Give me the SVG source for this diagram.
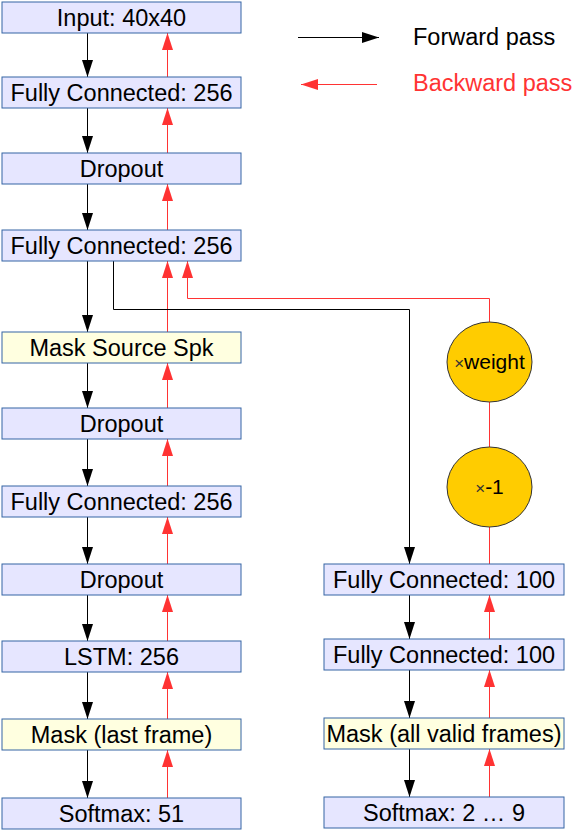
<svg xmlns="http://www.w3.org/2000/svg" width="573" height="831" viewBox="0 0 573 831">
<style>
.box{fill:#e6e6ff;stroke:#3465a4;stroke-width:1}
.mask{fill:#ffffe0;stroke:#3465a4;stroke-width:1}
.t{font-family:"Liberation Sans",Arial,sans-serif;font-size:23.5px;text-anchor:middle;fill:#000}
.lg{font-family:"Liberation Sans",Arial,sans-serif;font-size:23.5px;fill:#000}
.et{font-family:"Liberation Sans",Arial,sans-serif;font-size:21px;text-anchor:middle;fill:#000}
.x{font-size:17px;fill:#333}
.f{fill:none;stroke:#000;stroke-width:1}
.b{fill:none;stroke:#ff3333;stroke-width:1}
.fa{marker-end:url(#ab)}
.ba{marker-end:url(#ar)}
.ell{fill:#ffcc00;stroke:#333;stroke-width:1}
</style>
<defs>
<marker id="ab" markerUnits="userSpaceOnUse" markerWidth="18" markerHeight="12" refX="17" refY="5.5" orient="auto"><path d="M0,0 L17,5.5 L0,11 z" fill="#000"/></marker>
<marker id="ar" markerUnits="userSpaceOnUse" markerWidth="18" markerHeight="12" refX="17" refY="5.5" orient="auto"><path d="M0,0 L17,5.5 L0,11 z" fill="#ff3333"/></marker>
</defs>
<g id="legend">
<line class="f fa" x1="298" y1="37.5" x2="379" y2="37.5"/>
<text class="lg" x="413" y="45">Forward pass</text>
<line class="b ba" x1="377" y1="84.5" x2="301" y2="84.5"/>
<text class="lg" x="413" y="91" style="fill:#ff3333">Backward pass</text>
</g>
<g id="connectors">
<line class="f fa" x1="87.5" y1="33" x2="87.5" y2="77"/>
<line class="b ba" x1="167.5" y1="77" x2="167.5" y2="33"/>
<line class="f fa" x1="87.5" y1="108" x2="87.5" y2="153"/>
<line class="b ba" x1="167.5" y1="153" x2="167.5" y2="108"/>
<line class="f fa" x1="87.5" y1="184" x2="87.5" y2="230"/>
<line class="b ba" x1="167.5" y1="230" x2="167.5" y2="184"/>
<line class="f fa" x1="87.5" y1="261" x2="87.5" y2="332"/>
<line class="b ba" x1="167.5" y1="332" x2="167.5" y2="261"/>
<line class="f fa" x1="87.5" y1="363" x2="87.5" y2="408"/>
<line class="b ba" x1="167.5" y1="408" x2="167.5" y2="363"/>
<line class="f fa" x1="87.5" y1="439" x2="87.5" y2="486"/>
<line class="b ba" x1="167.5" y1="486" x2="167.5" y2="439"/>
<line class="f fa" x1="87.5" y1="517" x2="87.5" y2="564"/>
<line class="b ba" x1="167.5" y1="564" x2="167.5" y2="517"/>
<line class="f fa" x1="87.5" y1="595" x2="87.5" y2="641"/>
<line class="b ba" x1="167.5" y1="641" x2="167.5" y2="595"/>
<line class="f fa" x1="87.5" y1="672" x2="87.5" y2="719"/>
<line class="b ba" x1="167.5" y1="719" x2="167.5" y2="672"/>
<line class="f fa" x1="87.5" y1="750" x2="87.5" y2="798"/>
<line class="b ba" x1="167.5" y1="798" x2="167.5" y2="750"/>
<polyline class="f fa" points="113.5,261 113.5,309.5 409.5,309.5 409.5,564"/>
<polyline class="b ba" points="489.5,322 489.5,298.5 187.5,298.5 187.5,261"/>
<line class="b" x1="489.5" y1="402" x2="489.5" y2="447"/>
<line class="b" x1="489.5" y1="527" x2="489.5" y2="564"/>
<line class="f fa" x1="409.5" y1="595" x2="409.5" y2="639"/>
<line class="b ba" x1="489.5" y1="639" x2="489.5" y2="595"/>
<line class="f fa" x1="409.5" y1="670" x2="409.5" y2="718"/>
<line class="b ba" x1="489.5" y1="718" x2="489.5" y2="670"/>
<line class="f fa" x1="409.5" y1="749" x2="409.5" y2="797"/>
<line class="b ba" x1="489.5" y1="797" x2="489.5" y2="749"/>
</g>
<g id="input"><rect class="box" x="2" y="2" width="239" height="31"/><text class="t" x="121.5" y="26">Input: 40x40</text></g>
<g id="fc1"><rect class="box" x="2" y="77" width="239" height="31"/><text class="t" x="121.5" y="101">Fully Connected: 256</text></g>
<g id="dropout1"><rect class="box" x="2" y="153" width="239" height="31"/><text class="t" x="121.5" y="177">Dropout</text></g>
<g id="fc2"><rect class="box" x="2" y="230" width="239" height="31"/><text class="t" x="121.5" y="254">Fully Connected: 256</text></g>
<g id="masksrc"><rect class="mask" x="2" y="332" width="239" height="31"/><text class="t" x="121.5" y="356">Mask Source Spk</text></g>
<g id="dropout2"><rect class="box" x="2" y="408" width="239" height="31"/><text class="t" x="121.5" y="432">Dropout</text></g>
<g id="fc3"><rect class="box" x="2" y="486" width="239" height="31"/><text class="t" x="121.5" y="510">Fully Connected: 256</text></g>
<g id="dropout3"><rect class="box" x="2" y="564" width="239" height="31"/><text class="t" x="121.5" y="588">Dropout</text></g>
<g id="lstm"><rect class="box" x="2" y="641" width="239" height="31"/><text class="t" x="121.5" y="665">LSTM: 256</text></g>
<g id="masklast"><rect class="mask" x="2" y="719" width="239" height="31"/><text class="t" x="121.5" y="743">Mask (last frame)</text></g>
<g id="softmax51"><rect class="box" x="2" y="798" width="239" height="31"/><text class="t" x="121.5" y="822">Softmax: 51</text></g>
<g id="weight"><ellipse class="ell" cx="489.5" cy="362" rx="42.5" ry="40"/><text class="et" x="489.5" y="369"><tspan class="x">×</tspan>weight</text></g>
<g id="neg1"><ellipse class="ell" cx="489.5" cy="487" rx="42.5" ry="40"/><text class="et" x="489.5" y="494"><tspan class="x">×</tspan>-1</text></g>
<g id="fc100a"><rect class="box" x="324" y="564" width="240" height="31"/><text class="t" x="444" y="588">Fully Connected: 100</text></g>
<g id="fc100b"><rect class="box" x="324" y="639" width="240" height="31"/><text class="t" x="444" y="663">Fully Connected: 100</text></g>
<g id="maskall"><rect class="mask" x="324" y="718" width="240" height="31"/><text class="t" x="444" y="742">Mask (all valid frames)</text></g>
<g id="softmax29"><rect class="box" x="324" y="797" width="240" height="31"/><text class="t" x="444" y="821">Softmax: 2 … 9</text></g>
</svg>
